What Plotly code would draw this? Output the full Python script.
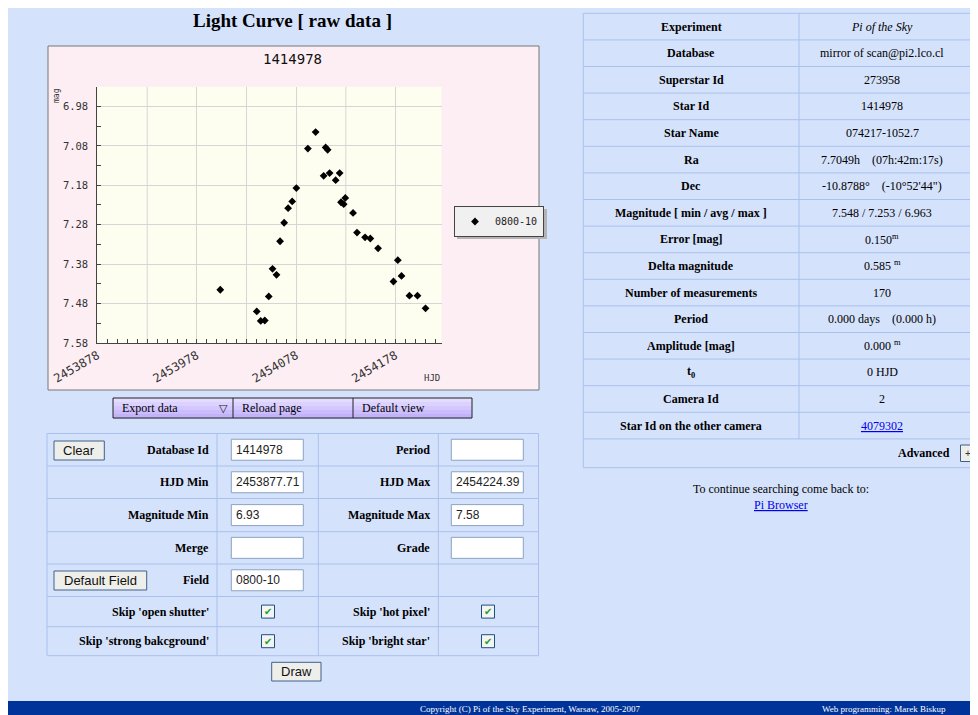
import plotly.graph_objects as go

# ---------------- data ----------------
hjd = [2454001.6, 2454038.3, 2454042.3, 2454046.4, 2454050.4, 2454054.2, 2454058.2,
       2454061.8, 2454065.9, 2454069.9, 2454074.0, 2454078.2, 2454089.8, 2454097.6,
       2454105.7, 2454107.7, 2454109.7, 2454111.7, 2454117.8, 2454121.8, 2454123.2,
       2454125.9, 2454127.5, 2454135.3, 2454139.3, 2454147.4, 2454152.7, 2454160.5,
       2454176.0, 2454180.4, 2454184.1, 2454192.1, 2454200.2, 2454208.3]
mag = [7.445, 7.500, 7.524, 7.523, 7.462, 7.392, 7.407,
       7.322, 7.275, 7.238, 7.221, 7.187, 7.087, 7.045,
       7.156, 7.084, 7.090, 7.149, 7.167, 7.149, 7.223,
       7.228, 7.212, 7.250, 7.300, 7.312, 7.315, 7.340,
       7.424, 7.370, 7.410, 7.460, 7.460, 7.492]
series_name = "0800-10"
chart_title = "1414978"
page_title = "Light Curve [ raw data ]"

hjd_min, hjd_max = 2453877.71, 2454224.39
mag_min, mag_max = 6.93, 7.58
x_tick_vals = [2453878, 2453978, 2454078, 2454178]
x_tick_text = ["2453878", "2453978", "2454078", "2454178"]
x_mid_grid = [2453928, 2454028, 2454128]
y_tick_vals = [6.98, 7.08, 7.18, 7.28, 7.38, 7.48, 7.58]
y_tick_text = ["6.98", "7.08", "7.18", "7.28", "7.38", "7.48", "7.58"]

info_labels = ["Experiment", "Database", "Superstar Id", "Star Id", "Star Name", "Ra", "Dec",
               "Magnitude [ min / avg / max ]", "Error [mag]", "Delta magnitude",
               "Number of measurements", "Period", "Amplitude [mag]", "t<sub>0</sub>",
               "Camera Id", "Star Id on the other camera"]
info_values = ["<i>Pi of the Sky</i>", "mirror of scan@pi2.lco.cl", "273958", "1414978",
               "074217-1052.7", "7.7049h    (07h:42m:17s)", "-10.8788°    (-10°52'44\")",
               "7.548 / 7.253 / 6.963", "0.150<sup>m</sup>", "0.585 <sup>m</sup>", "170",
               "0.000 days    (0.000 h)", "0.000 <sup>m</sup>", "0 HJD", "2",
               "<u>4079302</u>"]

menu_items = ["Export data", "Reload page", "Default view"]
form_left_labels = ["Database Id", "HJD Min", "Magnitude Min", "Merge", "Field"]
form_left_values = ["1414978", "2453877.71", "6.93", "", "0800-10"]
form_right_labels = ["Period", "HJD Max", "Magnitude Max", "Grade"]
form_right_values = ["", "2454224.39", "7.58", ""]
skip_left = ["Skip 'open shutter'", "Skip 'strong bakcground'"]
skip_right = ["Skip 'hot pixel'", "Skip 'bright star'"]

# ---------------- helpers ----------------
# The page body has an 8px margin, so the figure starts at (8, 8) of the window.
OFF = 8
W, H = 978 - OFF, 715 - OFF
SERIF = "Liberation Serif"
SANS = "Liberation Sans"
MONO = "DejaVu Sans Mono"
PAGE_BG = "#d5e2fb"
CELL_LINE = "#a9c1ef"
GRID = "#d6d6d6"


def px(x):
    return (x - OFF) / W


def py(y):
    return 1 - (y - OFF) / H


shapes = []
annotations = []


def rect(x0, y0, x1, y1, fill=None, line=None, lw=1, layer="below"):
    shapes.append(dict(type="rect", xref="paper", yref="paper",
                       x0=px(x0), x1=px(x1), y0=py(y1), y1=py(y0),
                       fillcolor=fill if fill else "rgba(0,0,0,0)",
                       line=dict(color=line if line else "rgba(0,0,0,0)", width=lw if line else 0),
                       layer=layer))


def hline(x0, x1, y, color=CELL_LINE, lw=1):
    shapes.append(dict(type="line", xref="paper", yref="paper", x0=px(x0), x1=px(x1),
                       y0=py(y), y1=py(y), line=dict(color=color, width=lw), layer="below"))


def vline(x, y0, y1, color=CELL_LINE, lw=1):
    shapes.append(dict(type="line", xref="paper", yref="paper", x0=px(x), x1=px(x),
                       y0=py(y0), y1=py(y1), line=dict(color=color, width=lw), layer="below"))


def text(x, y, s, size=12, color="black", family=SERIF, xanchor="center", bold=False, angle=0):
    if not s:
        return
    if bold:
        s = "<b>" + s + "</b>"
    annotations.append(dict(x=px(x), y=py(y), xref="paper", yref="paper", text=s,
                            showarrow=False, xanchor=xanchor, yanchor="middle", textangle=angle,
                            font=dict(family=family, size=size, color=color)))


# ---------------- page title ----------------
text(292, 20, page_title, size=19, bold=True)

# ---------------- chart image box ----------------
rect(48, 46, 539, 390, fill="#fdeef4", line="#777")
rect(97.3, 86.7, 441.5, 343, fill="#fefef0")
# intermediate vertical grid lines (every 50 days), placed through the x axis scale
for g in x_mid_grid:
    shapes.append(dict(type="line", xref="x", yref="y domain", x0=g, x1=g, y0=0, y1=1,
                       line=dict(color=GRID, width=1), layer="below"))
text(292, 59, chart_title, size=14, family=MONO, color="#111")
text(57, 96, "mag", size=8, family=MONO, angle=-90, color="#333")
text(432, 378, "HJD", size=9, family=MONO, color="#333")
# legend shadow
rect(457, 209, 547, 239, fill="#b4b4b4")

# ---------------- menu bar ----------------
menu_x = [113, 233, 353, 472]
bands = ["#e4dcff", "#dcd2ff", "#d3c7fd", "#cbbdfb", "#c2b2f8"]
bh = 20 / len(bands)
for i, c in enumerate(bands):
    rect(113, 398 + i * bh, 472, 398 + (i + 1) * bh + 0.5, fill=c)
rect(113, 398, 472, 418, line="#222")
for xx in menu_x[1:-1]:
    vline(xx, 398, 418, color="#222")
for i, m in enumerate(menu_items):
    text(menu_x[i] + 7, 408, m, size=12, xanchor="left")
text(223, 408, "▽", size=11, family="DejaVu Sans", color="#222")

# ---------------- form table ----------------
fx = [47, 217, 318.3, 438.3, 538.5]
fy = [433.5, 466, 498.5, 531.7, 564, 596.5, 626.7, 655.7]
rect(fx[0], fy[0], fx[-1], fy[-1], line=CELL_LINE)
for yy in fy[1:-1]:
    hline(fx[0], fx[-1], yy)
for xx in fx[1:-1]:
    vline(xx, fy[0], fy[-1])

inp_h = 21
for i, lab in enumerate(form_left_labels):
    cy = (fy[i] + fy[i + 1]) / 2
    text(211, cy, lab, size=12, bold=True, xanchor="right")
    rect(231.3, cy - inp_h / 2, 303.3, cy + inp_h / 2, fill="white", line="#8aa3c3")
    text(233.5, cy, form_left_values[i], size=12, family=SANS, xanchor="left", color="#222")
for i, lab in enumerate(form_right_labels):
    cy = (fy[i] + fy[i + 1]) / 2
    text(432, cy, lab, size=12, bold=True, xanchor="right")
    rect(451.3, cy - inp_h / 2, 523.3, cy + inp_h / 2, fill="white", line="#8aa3c3")
    text(453.5, cy, form_right_values[i], size=12, family=SANS, xanchor="left", color="#222")

for k in range(2):
    cy = (fy[5 + k] + fy[6 + k]) / 2
    text(211, cy, skip_left[k], size=12, bold=True, xanchor="right")
    text(432, cy, skip_right[k], size=12, bold=True, xanchor="right")
    for cx in (268, 488):
        rect(cx - 6.5, cy - 6.5, cx + 6.5, cy + 6.5, fill="#f4f4f4", line="#1c5180")
        text(cx, cy, "✔", size=10, family="DejaVu Sans", color="#21a121")


def button(x0, y0, x1, y1, label, size=13):
    shapes.append(dict(type="rect", xref="paper", yref="paper", x0=px(x0), x1=px(x1),
                       y0=py(y1), y1=py(y0), fillcolor="#eeeeea",
                       line=dict(color="#40608a", width=1), layer="below"))
    text((x0 + x1) / 2, (y0 + y1) / 2, label, size=size, family=SANS, color="#111")


button(54, 441, 104.3, 460, "Clear")
button(54, 571, 146.7, 590, "Default Field")
button(271.7, 662.3, 321, 681, "Draw")

# ---------------- info table ----------------
tx0, tdiv, tx1 = 583.3, 799, 990
ty0, rh = 13.3, 26.6
n = len(info_labels)
tbot = 467.7
rect(tx0, ty0, tx1, tbot, line=CELL_LINE)
for k in range(1, n + 1):
    hline(tx0, tx1, ty0 + k * rh)
vline(tdiv, ty0, ty0 + n * rh)
for k in range(n):
    cy = ty0 + (k + 0.5) * rh
    text(691, cy, info_labels[k], size=12, bold=True)
    col = "#0000ee" if k == n - 1 else "black"
    text(882, cy, info_values[k], size=12, color=col)
adv_y = (ty0 + n * rh + tbot) / 2
text(952, adv_y, "Advanced", size=12, bold=True, xanchor="right")
shapes.append(dict(type="rect", xref="paper", yref="paper", x0=px(960.5), x1=px(976),
                   y0=py(461.5), y1=py(445), fillcolor="#eeeeea",
                   line=dict(color="#40608a", width=1), layer="below"))
text(968.3, 453.3, "+", size=10, family=SANS, color="#333")

text(781, 489, "To continue searching come back to:", size=12)
text(781, 505, "<u>Pi Browser</u>", size=12, color="#0000ee")

# ---------------- footer ----------------
rect(OFF, 701, 980, 720, fill="#003399")
text(530, 708.5, "Copyright (C) Pi of the Sky Experiment, Warsaw, 2005-2007", size=9, color="white")
text(820, 708.5, "Web programming: Marek Biskup", size=9, color="white", xanchor="left")

# ---------------- figure ----------------
fig = go.Figure()
fig.add_trace(go.Scatter(
    x=hjd, y=mag, mode="markers", name=series_name,
    marker=dict(symbol="diamond", size=6, color="black"),
))

fig.update_layout(
    width=W, height=H,
    margin=dict(l=0, r=0, t=0, b=0, pad=0, autoexpand=False),
    paper_bgcolor=PAGE_BG,
    plot_bgcolor="rgba(0,0,0,0)",
    shapes=shapes,
    annotations=annotations,
    showlegend=True,
    legend=dict(x=px(454), y=py(206), xanchor="left", yanchor="top",
                bgcolor="#f0f0f0", bordercolor="#444", borderwidth=1,
                font=dict(family=MONO, size=10, color="#222"),
                itemwidth=30, tracegroupgap=0),
    xaxis=dict(
        domain=[px(97.3), px(441.5)], range=[hjd_min, hjd_max],
        tickmode="array", tickvals=x_tick_vals, ticktext=x_tick_text,
        ticks="inside", ticklen=4, tickcolor="#444", tickangle=-30,
        tickfont=dict(family=MONO, size=12, color="#333"),
        showgrid=True, gridcolor=GRID, gridwidth=1,
        showline=True, linecolor="#444", linewidth=1, zeroline=False,
        minor=dict(tick0=2453878, dtick=10, ticks="inside", ticklen=4,
                   tickcolor="#444", showgrid=False),
    ),
    yaxis=dict(
        domain=[py(343), py(86.7)], range=[mag_max, mag_min],
        tickmode="array", tickvals=y_tick_vals, ticktext=y_tick_text,
        ticks="inside", ticklen=4, tickcolor="#444",
        tickfont=dict(family=MONO, size=10.5, color="#333"),
        ticklabelstandoff=6,
        showgrid=True, gridcolor=GRID, gridwidth=1,
        showline=True, linecolor="#444", linewidth=1, zeroline=False,
        minor=dict(tick0=6.93, dtick=0.1, ticks="inside", ticklen=4,
                   tickcolor="#444", showgrid=False),
    ),
)

fig.write_html("out.html")
